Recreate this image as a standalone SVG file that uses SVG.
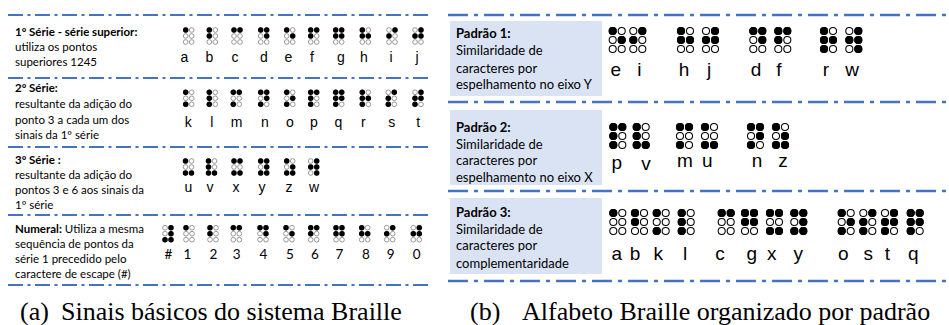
<svg xmlns="http://www.w3.org/2000/svg" width="949" height="325" viewBox="0 0 949 325">
<style>
.t{font-family:Lato,"Open Sans",sans-serif;font-size:11.5px;fill:#000}
.b{font-weight:bold}
.rt{font-family:Lato,"Open Sans",sans-serif;font-size:13px;fill:#000}
.lt{font-family:"Liberation Sans",Arial,sans-serif;font-size:14px;text-anchor:middle;fill:#000}
.nt{font-family:Lato,"Open Sans",sans-serif;font-size:13.5px;text-anchor:middle;fill:#000}
.rl{font-family:"Liberation Sans",Arial,sans-serif;font-size:19px;text-anchor:middle;fill:#000}
.cap{font-family:"Liberation Serif","Times New Roman",serif;font-size:26px;fill:#000}
.ll{stroke:#4472C4;stroke-width:2;stroke-dasharray:15 4.5 3 4.5;fill:none}
.rln{stroke:#4472C4;stroke-width:2.6;stroke-dasharray:20 6 4 6;fill:none}
.k{fill:#000;stroke:none}
.o{fill:#fff}
.box{fill:#DAE3F3}
.lc{stroke:#808080;stroke-width:0.8}
.rc{stroke:#000;stroke-width:0.7}
</style>
<defs>
<g id="cell"><circle class="o" cx="0" cy="0" r="2.35"/><circle class="o" cx="0" cy="6" r="2.35"/><circle class="o" cx="0" cy="12" r="2.35"/><circle class="o" cx="6" cy="0" r="2.35"/><circle class="o" cx="6" cy="6" r="2.35"/><circle class="o" cx="6" cy="12" r="2.35"/></g>
<circle id="d1" class="k" cx="0" cy="0" r="2.7"/>
<circle id="d2" class="k" cx="0" cy="6" r="2.7"/>
<circle id="d3" class="k" cx="0" cy="12" r="2.7"/>
<circle id="d4" class="k" cx="6" cy="0" r="2.7"/>
<circle id="d5" class="k" cx="6" cy="6" r="2.7"/>
<circle id="d6" class="k" cx="6" cy="12" r="2.7"/>
<g id="b-a"><use href="#cell"/><use href="#d1"/></g>
<g id="b-b"><use href="#cell"/><use href="#d1"/><use href="#d2"/></g>
<g id="b-c"><use href="#cell"/><use href="#d1"/><use href="#d4"/></g>
<g id="b-d"><use href="#cell"/><use href="#d1"/><use href="#d4"/><use href="#d5"/></g>
<g id="b-e"><use href="#cell"/><use href="#d1"/><use href="#d5"/></g>
<g id="b-f"><use href="#cell"/><use href="#d1"/><use href="#d2"/><use href="#d4"/></g>
<g id="b-g"><use href="#cell"/><use href="#d1"/><use href="#d2"/><use href="#d4"/><use href="#d5"/></g>
<g id="b-h"><use href="#cell"/><use href="#d1"/><use href="#d2"/><use href="#d5"/></g>
<g id="b-i"><use href="#cell"/><use href="#d2"/><use href="#d4"/></g>
<g id="b-j"><use href="#cell"/><use href="#d2"/><use href="#d4"/><use href="#d5"/></g>
<g id="b-k"><use href="#cell"/><use href="#d1"/><use href="#d3"/></g>
<g id="b-l"><use href="#cell"/><use href="#d1"/><use href="#d2"/><use href="#d3"/></g>
<g id="b-m"><use href="#cell"/><use href="#d1"/><use href="#d3"/><use href="#d4"/></g>
<g id="b-n"><use href="#cell"/><use href="#d1"/><use href="#d3"/><use href="#d4"/><use href="#d5"/></g>
<g id="b-o"><use href="#cell"/><use href="#d1"/><use href="#d3"/><use href="#d5"/></g>
<g id="b-p"><use href="#cell"/><use href="#d1"/><use href="#d2"/><use href="#d3"/><use href="#d4"/></g>
<g id="b-q"><use href="#cell"/><use href="#d1"/><use href="#d2"/><use href="#d3"/><use href="#d4"/><use href="#d5"/></g>
<g id="b-r"><use href="#cell"/><use href="#d1"/><use href="#d2"/><use href="#d3"/><use href="#d5"/></g>
<g id="b-s"><use href="#cell"/><use href="#d2"/><use href="#d3"/><use href="#d4"/></g>
<g id="b-t"><use href="#cell"/><use href="#d2"/><use href="#d3"/><use href="#d4"/><use href="#d5"/></g>
<g id="b-u"><use href="#cell"/><use href="#d1"/><use href="#d3"/><use href="#d6"/></g>
<g id="b-v"><use href="#cell"/><use href="#d1"/><use href="#d2"/><use href="#d3"/><use href="#d6"/></g>
<g id="b-x"><use href="#cell"/><use href="#d1"/><use href="#d3"/><use href="#d4"/><use href="#d6"/></g>
<g id="b-y"><use href="#cell"/><use href="#d1"/><use href="#d3"/><use href="#d4"/><use href="#d5"/><use href="#d6"/></g>
<g id="b-z"><use href="#cell"/><use href="#d1"/><use href="#d3"/><use href="#d5"/><use href="#d6"/></g>
<g id="b-w"><use href="#cell"/><use href="#d2"/><use href="#d4"/><use href="#d5"/><use href="#d6"/></g>
<g id="b-num"><use href="#cell"/><use href="#d3"/><use href="#d4"/><use href="#d5"/><use href="#d6"/></g>
</defs>

<g id="left-lines">
<line class="ll" x1="8" y1="15" x2="430" y2="15"/>
<line class="ll" x1="8" y1="78" x2="430" y2="78"/>
<line class="ll" x1="8" y1="147" x2="430" y2="147"/>
<line class="ll" x1="8" y1="215" x2="430" y2="215"/>
<line class="ll" x1="8" y1="285" x2="430" y2="285"/>
</g>

<g id="serie1">
<text class="t" x="15" y="35.5"><tspan class="b">1º Série - série superior:</tspan></text>
<text class="t" x="15" y="51">utiliza os pontos</text>
<text class="t" x="15" y="66">superiores 1245</text>
<g class="lc">
<use href="#b-a" x="185.7" y="30"/><use href="#b-b" x="209.3" y="30"/><use href="#b-c" x="234" y="30"/><use href="#b-d" x="260.7" y="30"/><use href="#b-e" x="286.7" y="30"/><use href="#b-f" x="310.7" y="30"/><use href="#b-g" x="335.7" y="30"/><use href="#b-h" x="362.3" y="30"/><use href="#b-i" x="389" y="30"/><use href="#b-j" x="415" y="30"/>
</g>
<text class="lt" x="184.5" y="61.5">a</text><text class="lt" x="209.5" y="61.5">b</text><text class="lt" x="235" y="61.5">c</text><text class="lt" x="264" y="61.5">d</text><text class="lt" x="288.5" y="61.5">e</text><text class="lt" x="312" y="61.5">f</text><text class="lt" x="341" y="61.5">g</text><text class="lt" x="364" y="61.5">h</text><text class="lt" x="391" y="61.5">i</text><text class="lt" x="417" y="61.5">j</text>
</g>

<g id="serie2">
<text class="t b" x="15" y="92">2º Série:</text>
<text class="t" x="15" y="108">resultante da adição do</text>
<text class="t" x="15" y="123.5">ponto 3 a cada um dos</text>
<text class="t" x="15" y="139">sinais da 1º série</text>
<g class="lc">
<use href="#b-k" x="185.7" y="92.3"/><use href="#b-l" x="209.3" y="92.3"/><use href="#b-m" x="233.3" y="92.3"/><use href="#b-n" x="260.7" y="92.3"/><use href="#b-o" x="286.7" y="92.3"/><use href="#b-p" x="310.7" y="92.3"/><use href="#b-q" x="335.7" y="92.3"/><use href="#b-r" x="362.3" y="92.3"/><use href="#b-s" x="388.3" y="92.3"/><use href="#b-t" x="415" y="92.3"/>
</g>
<text class="lt" x="188.3" y="126.7">k</text><text class="lt" x="211.7" y="126.7">l</text><text class="lt" x="236.7" y="126.7">m</text><text class="lt" x="265" y="126.7">n</text><text class="lt" x="290" y="126.7">o</text><text class="lt" x="314" y="126.7">p</text><text class="lt" x="338.3" y="126.7">q</text><text class="lt" x="363.3" y="126.7">r</text><text class="lt" x="391.7" y="126.7">s</text><text class="lt" x="418.3" y="126.7">t</text>
</g>

<g id="serie3">
<text class="t b" x="15" y="164">3º Série :</text>
<text class="t" x="15" y="179">resultante da adição do</text>
<text class="t" x="15" y="194">pontos 3 e 6 aos sinais da</text>
<text class="t" x="15" y="209">1º série</text>
<g class="lc">
<use href="#b-u" x="185.5" y="161"/><use href="#b-v" x="208.5" y="161"/><use href="#b-x" x="234" y="161"/><use href="#b-y" x="260.7" y="161"/><use href="#b-z" x="286.7" y="161"/><use href="#b-w" x="310.7" y="161"/>
</g>
<text class="lt" x="188.3" y="192">u</text><text class="lt" x="210" y="192">v</text><text class="lt" x="236" y="192">x</text><text class="lt" x="262" y="192">y</text><text class="lt" x="289" y="192">z</text><text class="lt" x="314" y="192">w</text>
</g>

<g id="numeral">
<text class="t" x="15" y="233"><tspan class="b">Numeral:</tspan> Utiliza a mesma</text>
<text class="t" x="15" y="248">sequência de pontos da</text>
<text class="t" x="15" y="263">série 1 precedido pelo</text>
<text class="t" x="15" y="278">caractere de escape (#)</text>
<g class="lc">
<use href="#b-num" x="165" y="227.7"/><use href="#b-a" x="186" y="227.7"/><use href="#b-b" x="210" y="227.7"/><use href="#b-c" x="233.3" y="227.7"/><use href="#b-d" x="260" y="227.7"/><use href="#b-e" x="286" y="227.7"/><use href="#b-f" x="310.7" y="227.7"/><use href="#b-g" x="336" y="227.7"/><use href="#b-h" x="361.7" y="227.7"/><use href="#b-i" x="386.7" y="227.7"/><use href="#b-j" x="413.3" y="227.7"/>
</g>
<text class="nt" x="168.3" y="258.5">#</text><text class="nt" x="187.3" y="258.5">1</text><text class="nt" x="213.3" y="258.5">2</text><text class="nt" x="236.7" y="258.5">3</text><text class="nt" x="263.3" y="258.5">4</text><text class="nt" x="290" y="258.5">5</text><text class="nt" x="315" y="258.5">6</text><text class="nt" x="339.3" y="258.5">7</text><text class="nt" x="366" y="258.5">8</text><text class="nt" x="390.7" y="258.5">9</text><text class="nt" x="416.7" y="258.5">0</text>
</g>

<g id="right-lines">
<line class="rln" x1="448" y1="15" x2="949" y2="15"/>
<line class="rln" x1="448" y1="102" x2="949" y2="102"/>
<line class="rln" x1="448" y1="191" x2="949" y2="191"/>
<line class="rln" x1="448" y1="281" x2="949" y2="281"/>
</g>

<g id="padrao1">
<rect class="box" x="450" y="21" width="152" height="75"/>
<text class="rt b" x="456" y="37.5">Padrão 1:</text>
<text class="rt" x="456" y="55">Similaridade de</text>
<text class="rt" x="456" y="72.5">caracteres por</text>
<text class="rt" x="456" y="89">espelhamento no eixo Y</text>
<g class="rc">
<use href="#b-e" transform="translate(612.7 31) scale(1.5)"/><use href="#b-i" transform="translate(633.3 31) scale(1.5)"/><use href="#b-h" transform="translate(681 31) scale(1.5)"/><use href="#b-j" transform="translate(706 31) scale(1.5)"/><use href="#b-d" transform="translate(753.3 31) scale(1.5)"/><use href="#b-f" transform="translate(778.3 31) scale(1.5)"/><use href="#b-r" transform="translate(824 31) scale(1.5)"/><use href="#b-w" transform="translate(849.3 31) scale(1.5)"/>
</g>
<text class="rl" x="615.7" y="75.5">e</text><text class="rl" x="639.3" y="75.5">i</text><text class="rl" x="684" y="75.5">h</text><text class="rl" x="709" y="75.5">j</text><text class="rl" x="756" y="75.5">d</text><text class="rl" x="779" y="75.5">f</text><text class="rl" x="826" y="75.5">r</text><text class="rl" x="852" y="75.5">w</text>
</g>

<g id="padrao2">
<rect class="box" x="450" y="110" width="152" height="75"/>
<text class="rt b" x="456" y="132">Padrão 2:</text>
<text class="rt" x="456" y="148.5">Similaridade de</text>
<text class="rt" x="456" y="165">caracteres por</text>
<text class="rt" x="456" y="181.5">espelhamento no eixo X</text>
<g class="rc">
<use href="#b-p" transform="translate(613.3 127) scale(1.5)"/><use href="#b-v" transform="translate(636.7 127) scale(1.5)"/><use href="#b-m" transform="translate(680 127) scale(1.5)"/><use href="#b-u" transform="translate(705 127) scale(1.5)"/><use href="#b-n" transform="translate(751 127) scale(1.5)"/><use href="#b-z" transform="translate(776 127) scale(1.5)"/>
</g>
<text class="rl" x="616.7" y="169">p</text><text class="rl" x="646" y="169.5">v</text><text class="rl" x="685" y="166.5">m</text><text class="rl" x="707.3" y="166.5">u</text><text class="rl" x="757" y="167">n</text><text class="rl" x="783" y="167">z</text>
</g>

<g id="padrao3">
<rect class="box" x="450" y="198" width="152" height="76"/>
<text class="rt b" x="456" y="217">Padrão 3:</text>
<text class="rt" x="456" y="233.5">Similaridade de</text>
<text class="rt" x="456" y="250">caracteres por</text>
<text class="rt" x="456" y="268">complementaridade</text>
<g class="rc">
<use href="#b-a" transform="translate(613.3 213) scale(1.5)"/><use href="#b-b" transform="translate(635 213) scale(1.5)"/><use href="#b-k" transform="translate(656.7 213) scale(1.5)"/><use href="#b-l" transform="translate(681.7 213) scale(1.5)"/><use href="#b-c" transform="translate(721.7 213) scale(1.5)"/><use href="#b-g" transform="translate(745 213) scale(1.5)"/><use href="#b-x" transform="translate(770 213) scale(1.5)"/><use href="#b-y" transform="translate(794.3 213) scale(1.5)"/><use href="#b-o" transform="translate(841.7 213) scale(1.5)"/><use href="#b-s" transform="translate(863.3 213) scale(1.5)"/><use href="#b-t" transform="translate(885 213) scale(1.5)"/><use href="#b-q" transform="translate(910.7 213) scale(1.5)"/>
</g>
<text class="rl" x="616.7" y="260">a</text><text class="rl" x="635" y="260">b</text><text class="rl" x="658.3" y="260">k</text><text class="rl" x="685" y="260">l</text><text class="rl" x="720" y="260">c</text><text class="rl" x="751.7" y="260">g</text><text class="rl" x="771.7" y="260">x</text><text class="rl" x="798.3" y="260">y</text><text class="rl" x="843.3" y="260">o</text><text class="rl" x="868.3" y="260">s</text><text class="rl" x="887.3" y="260">t</text><text class="rl" x="913.3" y="260">q</text>
</g>

<g id="captions">
<text class="cap" x="20" y="320">(a)</text>
<text class="cap" x="61" y="320">Sinais básicos do sistema Braille</text>
<text class="cap" x="470" y="320">(b)</text>
<text class="cap" x="522" y="320">Alfabeto Braille organizado por padrão</text>
</g>
</svg>
